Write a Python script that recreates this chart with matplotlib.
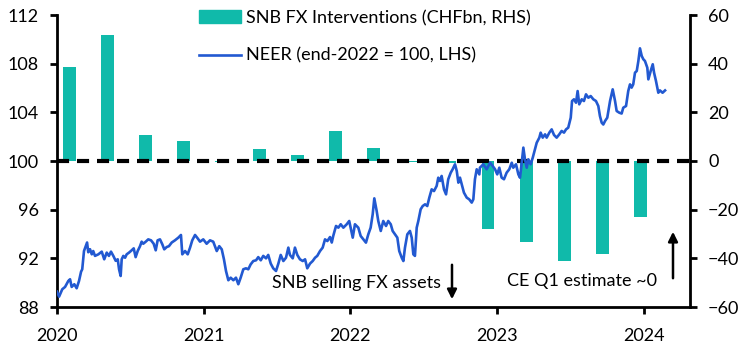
import numpy as np
import matplotlib
matplotlib.use('Agg')
import matplotlib.pyplot as plt
from matplotlib.patches import Patch
from matplotlib.lines import Line2D

plt.rcParams['font.family'] = ['Lato', 'DejaVu Sans']

# SNB FX interventions, CHFbn, by quarter (RHS)
quarters = ['Q1-20', 'Q2-20', 'Q3-20', 'Q4-20', 'Q1-21', 'Q2-21', 'Q3-21', 'Q4-21',
            'Q1-22', 'Q2-22', 'Q3-22', 'Q4-22', 'Q1-23', 'Q2-23', 'Q3-23', 'Q4-23', 'Q1-24']
fx_interventions = [38.5, 51.7, 10.8, 8.3, -0.3, 5.0, 2.5, 12.4,
                    5.4, -0.4, -0.8, -28.0, -33.1, -41.0, -38.3, -23.0, 0.0]

# NEER, end-2022 = 100 (LHS); x in years since start of 2020
neer_t = [0.000, 0.014, 0.036, 0.055, 0.077, 0.089, 0.100, 0.118, 0.134, 0.150,
          0.164, 0.172, 0.184, 0.196, 0.205, 0.213, 0.225, 0.237, 0.247, 0.259,
          0.282, 0.305, 0.322, 0.339, 0.354, 0.368, 0.384, 0.400, 0.414, 0.423,
          0.434, 0.441, 0.452, 0.464, 0.475, 0.491, 0.509, 0.523, 0.536, 0.550,
          0.566, 0.577, 0.588, 0.605, 0.622, 0.641, 0.659, 0.673, 0.686, 0.702,
          0.718, 0.731, 0.748, 0.763, 0.782, 0.804, 0.827, 0.845, 0.854, 0.873,
          0.891, 0.907, 0.922, 0.941, 0.959, 0.975, 0.997, 1.020, 1.043, 1.065,
          1.089, 1.106, 1.123, 1.138, 1.152, 1.168, 1.184, 1.202, 1.220, 1.236,
          1.252, 1.270, 1.288, 1.304, 1.320, 1.338, 1.357, 1.372, 1.389, 1.406,
          1.425, 1.440, 1.457, 1.474, 1.493, 1.509, 1.525, 1.543, 1.561, 1.577,
          1.588, 1.607, 1.622, 1.638, 1.656, 1.675, 1.691, 1.706, 1.725, 1.743,
          1.759, 1.774, 1.793, 1.811, 1.827, 1.843, 1.861, 1.873, 1.883, 1.902,
          1.918, 1.934, 1.952, 1.975, 1.992, 2.016, 2.031, 2.054, 2.070, 2.088,
          2.106, 2.122, 2.138, 2.152, 2.163, 2.179, 2.190, 2.207, 2.224, 2.243,
          2.258, 2.275, 2.288, 2.304, 2.320, 2.333, 2.350, 2.361, 2.372, 2.388,
          2.406, 2.418, 2.429, 2.440, 2.452, 2.463, 2.479, 2.493, 2.509, 2.524,
          2.538, 2.554, 2.570, 2.588, 2.599, 2.611, 2.622, 2.638, 2.652, 2.667,
          2.684, 2.697, 2.713, 2.725, 2.736, 2.747, 2.759, 2.774, 2.793, 2.810,
          2.827, 2.838, 2.849, 2.861, 2.879, 2.883, 2.906, 2.929, 2.952, 2.970,
          2.986, 3.001, 3.015, 3.031, 3.047, 3.065, 3.083, 3.100, 3.110, 3.129,
          3.145, 3.156, 3.168, 3.179, 3.190, 3.202, 3.213, 3.229, 3.243, 3.258,
          3.270, 3.288, 3.297, 3.311, 3.327, 3.338, 3.356, 3.372, 3.388, 3.406,
          3.424, 3.440, 3.456, 3.470, 3.485, 3.502, 3.511, 3.524, 3.538, 3.549,
          3.560, 3.577, 3.592, 3.606, 3.622, 3.638, 3.656, 3.674, 3.690, 3.701,
          3.713, 3.724, 3.736, 3.751, 3.770, 3.788, 3.804, 3.815, 3.833, 3.849,
          3.860, 3.879, 3.894, 3.906, 3.917, 3.928, 3.940, 3.952, 3.963, 3.974,
          3.986, 3.997, 4.008, 4.024, 4.031, 4.047, 4.061, 4.070, 4.083, 4.099,
          4.110, 4.128, 4.145]
neer_val = [89.26, 88.85, 89.46, 89.65, 90.14, 90.28, 89.65, 89.87, 89.54, 90.14,
            90.90, 91.10, 92.60, 93.00, 93.30, 92.50, 92.75, 92.33, 92.60, 92.20,
            92.33, 92.55, 91.92, 92.47, 92.20, 92.55, 92.20, 91.80, 91.92, 91.10,
            90.55, 91.92, 92.20, 92.05, 92.33, 92.47, 92.66, 92.82, 92.10, 92.60,
            93.00, 93.37, 93.20, 93.37, 93.56, 93.48, 93.20, 92.66, 93.48, 93.56,
            93.15, 92.74, 92.93, 93.00, 93.30, 93.48, 93.70, 93.92, 92.33, 92.60,
            92.33, 92.88, 93.48, 93.92, 93.64, 93.37, 93.56, 93.20, 93.48, 93.37,
            92.60, 93.00, 92.74, 91.92, 90.96, 90.20, 90.41, 90.20, 90.41, 89.87,
            90.41, 91.10, 91.18, 91.10, 91.50, 91.78, 91.84, 92.10, 91.84, 92.20,
            92.00, 92.28, 91.57, 91.18, 90.96, 91.57, 92.28, 91.78, 92.05, 92.88,
            92.28, 92.00, 92.88, 92.28, 91.92, 91.78, 91.92, 91.18, 91.57, 91.78,
            92.05, 92.20, 92.60, 92.88, 93.56, 93.42, 93.75, 93.30, 93.84, 94.66,
            94.52, 94.80, 94.52, 94.80, 95.07, 93.70, 94.80, 94.52, 93.84, 93.56,
            93.29, 93.97, 94.52, 95.62, 96.93, 95.90, 95.07, 94.25, 95.07, 94.66,
            95.07, 94.80, 94.25, 93.97, 93.70, 92.60, 92.05, 91.78, 92.88, 93.97,
            94.25, 93.70, 92.33, 92.20, 94.52, 95.07, 96.03, 96.30, 96.44, 96.30,
            96.99, 97.67, 97.53, 97.95, 98.63, 98.36, 98.77, 97.67, 97.26, 98.50,
            99.04, 99.32, 99.73, 99.18, 98.22, 98.63, 98.08, 97.40, 96.99, 96.85,
            96.58, 96.85, 98.50, 99.32, 98.90, 99.45, 99.73, 99.32, 99.86, 99.59,
            99.32, 98.90, 99.45, 98.63, 98.50, 99.04, 99.32, 99.86, 99.45, 99.73,
            98.90, 98.63, 99.86, 101.10, 100.14, 99.45, 100.14, 99.73, 100.27, 100.96,
            101.50, 101.92, 102.33, 101.92, 102.19, 101.92, 102.33, 102.60, 102.14, 101.92,
            102.19, 102.47, 102.33, 102.60, 102.74, 103.56, 104.93, 105.07, 104.79, 105.75,
            104.66, 105.07, 104.93, 105.48, 105.20, 105.34, 105.07, 104.93, 104.52, 103.70,
            103.15, 103.00, 103.29, 103.56, 104.93, 105.89, 104.93, 104.11, 103.97, 103.90,
            104.38, 104.52, 105.75, 106.30, 106.03, 106.30, 107.26, 107.40, 108.22, 109.26,
            108.63, 108.36, 108.22, 107.67, 106.71, 107.40, 107.95, 107.26, 106.58, 105.61,
            105.80, 105.61, 105.80]
years = [2020, 2021, 2022, 2023, 2024]

teal = '#10BAAA'
blue = '#2259D1'
W, H = 747, 354


def fp(x, y):
    # figure pixel (from top-left) -> figure fraction
    return (x / W, 1 - y / H)


fig = plt.figure(figsize=(W / 100, H / 100), dpi=100)
rect = [57 / W, 1 - 307 / H, (690 - 57) / W, (307 - 15) / H]

# bars on their own category axis, right-hand scale
axb = fig.add_axes(rect)
x = np.arange(len(quarters))
axb.bar(x, fx_interventions, width=0.34, color=teal, zorder=2)
axb.axhline(0, color='black', lw=3, ls=(0, (2.9, 1.9)), zorder=3)
axb.set_xlim(-0.33, 16.31)
axb.set_ylim(-60, 60)
axb.set_yticks(range(-60, 61, 20))
axb.yaxis.tick_right()
axb.tick_params(axis='y', direction='out', length=5, width=2, labelsize=13, pad=8)
axb.set_xticks([])
for s in ['left', 'top', 'bottom']:
    axb.spines[s].set_visible(False)
axb.spines['right'].set_linewidth(2)

# NEER line, left-hand scale
axl = fig.add_axes(rect)
axl.patch.set_alpha(0)
axl.plot(2020 + np.array(neer_t), neer_val, color=blue, lw=1.9, zorder=4)
axl.set_xlim(2020, 2024.315)
axl.set_ylim(88, 112)
axl.set_yticks(range(88, 113, 4))
axl.set_xticks(years)
axl.set_xticklabels([str(y) for y in years])
axl.tick_params(axis='both', direction='out', length=5, width=2, labelsize=13)
axl.tick_params(axis='y', pad=8)
axl.tick_params(axis='x', pad=10)
for s in ['right', 'top']:
    axl.spines[s].set_visible(False)
for s in ['left', 'bottom']:
    axl.spines[s].set_linewidth(2)

handles = [Patch(color=teal), Line2D([], [], color=blue, lw=1.9)]
labels = ['SNB FX Interventions (CHFbn, RHS)', 'NEER (end-2022 = 100, LHS)']
fig.legend(handles, labels, loc='upper left', bbox_to_anchor=fp(199, 10),
           frameon=False, fontsize=13, handlelength=2.3, handleheight=0.7,
           handletextpad=0.3, labelspacing=1.2, borderpad=0, borderaxespad=0)

fig.text(*fp(272, 283), 'SNB selling FX assets', fontsize=13, va='center', ha='left')
fig.text(*fp(507, 281), 'CE Q1 estimate ~0', fontsize=13, va='center', ha='left')
axl.annotate('', xy=fp(452, 302), xytext=fp(452, 262), xycoords='figure fraction',
             arrowprops=dict(arrowstyle='-|>', lw=1.8, color='black', mutation_scale=14))
axl.annotate('', xy=fp(673, 229), xytext=fp(673, 281), xycoords='figure fraction',
             arrowprops=dict(arrowstyle='-|>', lw=1.8, color='black', mutation_scale=14))

fig.savefig('out.png', dpi=100)
